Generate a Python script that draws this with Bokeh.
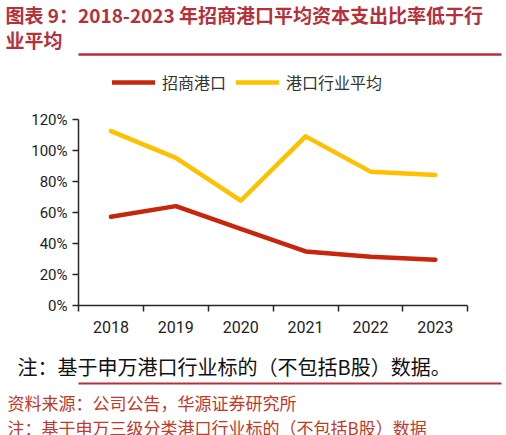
from bokeh.plotting import figure
from bokeh.models import (Range1d, Legend, LegendItem, FixedTicker, Title, LinearAxis,
                          PrintfTickFormatter, BasicTickFormatter)
from bokeh.embed import file_html
from bokeh.resources import INLINE

# ---------------- data ----------------
years = [2018, 2019, 2020, 2021, 2022, 2023]
cmport = [57.3, 64.2, 49.5, 34.9, 31.5, 29.6]        # 招商港口
industry = [112.7, 95.4, 67.7, 109.3, 86.5, 84.4]    # 港口行业平均
series_names = ["招商港口", "港口行业平均"]
y_ticks = [0, 20, 40, 60, 80, 100, 120]

title_lines = ["图表 9：2018-2023 年招商港口平均资本支出比率低于行", "业平均"]
note_text = "注：基于申万港口行业标的（不包括B股）数据。"
source_lines = ["资料来源：公司公告，华源证券研究所", "注：基于申万三级分类港口行业标的（不包括B股）数据"]

RED_TITLE = "#B5303A"
RED_SRC = "#C0392B"
RED_LINE = "#C8260C"
YELLOW = "#FFC000"
CJK = "Noto Sans CJK SC"

W, H = 506, 435
F_LEFT, F_RIGHT, F_TOP, F_BOTTOM = 78, 501, 54, 305
Y120 = 119.3
AX_RIGHT = 467.3
px_per_pct = (F_BOTTOM - Y120) / 120.0
y_top = 120 + (Y120 - F_TOP) / px_per_pct
px_per_year = (AX_RIGHT - F_LEFT) / len(years)
x_end = years[-1] + 0.5 + (F_RIGHT - AX_RIGHT) / px_per_year

p = figure(width=W, height=H, x_range=Range1d(years[0] - 0.5, x_end),
           y_range=Range1d(0, y_top), toolbar_location=None, output_backend="svg",
           min_border_left=F_LEFT, min_border_right=W - F_RIGHT, min_border_top=F_TOP,
           min_border_bottom=H - F_BOTTOM)
p.outline_line_color = None
p.grid.visible = False
p.extra_x_ranges = {"rule": Range1d(0, 1)}

r1 = p.line(years, cmport, line_color=RED_LINE, line_width=4.5, line_join="round", line_cap="round")
r2 = p.line(years, industry, line_color=YELLOW, line_width=4.5, line_join="round", line_cap="round")

ax = p.xaxis[0]
ax.ticker = FixedTicker(ticks=years, minor_ticks=[y - 0.5 for y in years] + [years[-1] + 0.5])
ax.bounds = (years[0] - 0.5, years[-1] + 0.5)
ax.formatter = BasicTickFormatter(use_scientific=False)
ax.major_tick_line_color = None
ax.major_tick_out = 6
ax.major_tick_in = 0
ax.minor_tick_out = 6
ax.minor_tick_in = 0
ax.minor_tick_line_color = "#262626"
ax.minor_tick_line_width = 1.5
ax.axis_line_color = "#262626"
ax.axis_line_width = 1.5
ax.major_label_standoff = 9
ax.major_label_text_font = "Roboto"
ax.major_label_text_font_size = "16px"
ax.major_label_text_color = "#222222"

ay = p.yaxis[0]
ay.ticker = FixedTicker(ticks=y_ticks, minor_ticks=[])
ay.formatter = PrintfTickFormatter(format="%d%%")
ay.bounds = (y_ticks[0], y_ticks[-1])
ay.major_tick_out = 6
ay.major_tick_in = 0
ay.major_tick_line_color = "#262626"
ay.major_tick_line_width = 1.5
ay.axis_line_color = "#262626"
ay.axis_line_width = 1.5
ay.major_label_standoff = 5
ay.major_label_text_font = "Roboto"
ay.major_label_text_font_size = "15px"
ay.major_label_text_color = "#222222"

legend = Legend(items=[LegendItem(label=series_names[0], renderers=[r1]),
                       LegendItem(label=series_names[1], renderers=[r2])],
                orientation="horizontal", location=(34, F_BOTTOM - 93.5), padding=0, margin=0,
                spacing=10, glyph_width=43, glyph_height=16, label_height=16,
                label_standoff=7, border_line_color=None, background_fill_alpha=0,
                label_text_font=CJK, label_text_font_size="16px",
                label_text_color="#333333")
p.add_layout(legend)


def rule_axis(side, color, width, extent=0):
    # a bare axis line used as a horizontal rule
    a = LinearAxis(x_range_name="rule", ticker=FixedTicker(ticks=[], minor_ticks=[]),
                   major_tick_out=extent, major_tick_in=0, minor_tick_out=0, minor_tick_in=0,
                   major_label_standoff=0, major_label_text_font_size="0px",
                   axis_line_color=color, axis_line_width=width)
    p.add_layout(a, side)


def title(side, txt, size, color, left, standoff, bold=False):
    p.add_layout(Title(text=txt, align="left", offset=left - F_LEFT, standoff=standoff,
                       text_font=CJK, text_font_size=size, text_color=color,
                       text_font_style="bold" if bold else "normal"), side)


# header (stacked outward from the frame)
rule_axis("above", RED_TITLE, 2.5)
title("above", title_lines[1], "19px", RED_TITLE, 5, 3.9, bold=True)
title("above", title_lines[0], "19px", RED_TITLE, 5, -13.7, bold=True)

# footer (stacked downward from the x axis)
rule_axis("below", None, 1, extent=10)
title("below", " ", "6px", "#FFFFFF", 17, 1.3)          # blank spacer line
title("below", note_text, "20px", "#111111", 17, 5.2)
rule_axis("below", RED_TITLE, 2)
title("below", source_lines[0], "17px", RED_SRC, 7, 7.8)
title("below", source_lines[1], "17px", RED_SRC, 7, -12.5)

open("out.html", "w").write(file_html(p, INLINE))
